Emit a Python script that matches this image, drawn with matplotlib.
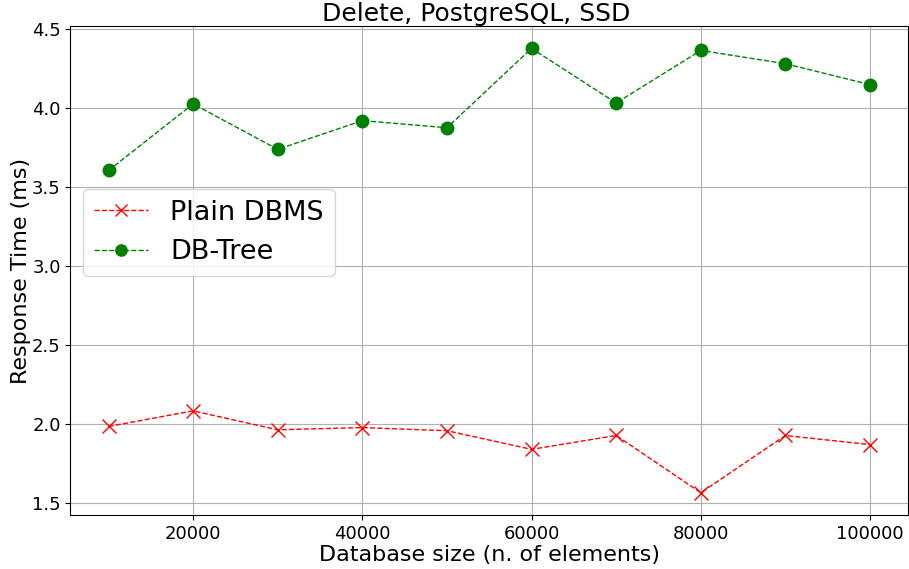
#!/usr/bin/env python3

import numpy as np
import matplotlib
matplotlib.use('Agg')
import matplotlib.pyplot as plt

sizes = [10000, 20000, 30000, 40000, 50000, 60000, 70000, 80000, 90000, 100000]
plain_dbms = [1.983, 2.082, 1.962, 1.976, 1.956, 1.838, 1.926, 1.563, 1.926, 1.868]
db_tree = [3.606, 4.028, 3.740, 3.922, 3.877, 4.380, 4.034, 4.367, 4.283, 4.150]

def main():
    fig = plt.figure(figsize=(9.09, 5.69), dpi=100)
    ax = fig.add_axes([0.0775, 0.095, 0.9215, 0.859])

    ax.plot(sizes, plain_dbms, color='red', linestyle='--', linewidth=1,
            marker='x', markersize=10, label='Plain DBMS')
    ax.plot(sizes, db_tree, color='green', linestyle='--', linewidth=1,
            marker='o', markersize=9, label='DB-Tree')

    ax.grid(True, color='#b0b0b0', linewidth=0.8)
    ax.set_xticks([20000, 40000, 60000, 80000, 100000])
    ax.tick_params(labelsize=13)

    ax.set_title('Delete, PostgreSQL, SSD', fontsize=18, pad=4, x=0.484)
    ax.set_xlabel('Database size (n. of elements)', fontsize=16, labelpad=2)
    ax.set_ylabel('Response Time (ms)', fontsize=16, labelpad=1)

    ax.legend(loc=(0.0155, 0.489), fontsize=19.5, markerscale=0.9)

    fig.savefig('out.png', dpi=100)

if __name__ == '__main__':
    main()
